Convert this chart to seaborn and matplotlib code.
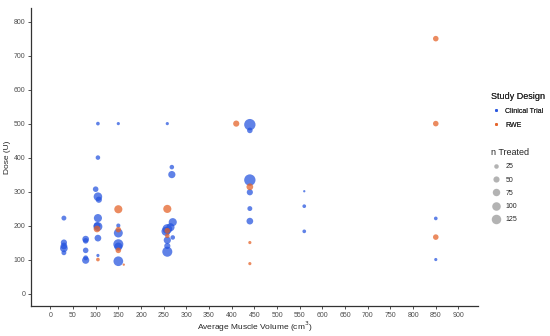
import matplotlib
matplotlib.use("Agg")
import matplotlib.pyplot as plt
import seaborn as sns
import pandas as pd
from matplotlib.lines import Line2D

# ---- data ----
ct_volume = [30, 30, 30, 30, 30, 78, 78, 78, 78, 78, 105, 105, 100, 105, 107, 105, 105, 103, 105, 105,
             150, 150, 150, 150, 150, 150, 258, 268, 268, 270, 258, 265, 255, 258, 258, 258, 270,
             440, 440, 440, 440, 440, 440, 560, 560, 560, 850, 850]
ct_dose = [222, 150, 140, 133, 120, 160, 155, 127, 105, 98, 500, 400, 307, 285, 276, 222, 197, 200, 163, 112,
           500, 200, 178, 145, 138, 95, 500, 372, 350, 210, 190, 195, 183, 157, 140, 123, 165,
           497, 480, 334, 298, 250, 213, 301, 257, 183, 221, 100]
ct_n = [30, 50, 60, 80, 30, 60, 40, 40, 30, 70, 15, 25, 40, 100, 50, 90, 110, 60, 60, 10,
        10, 20, 110, 140, 90, 130, 10, 25, 70, 90, 130, 90, 110, 70, 50, 140, 25,
        180, 40, 180, 50, 30, 60, 3, 15, 15, 15, 10]

rwe_volume = [103, 105, 150, 150, 150, 162, 258, 258, 258, 410, 440, 440, 440, 850, 850, 850]
rwe_dose = [190, 100, 248, 188, 127, 85, 249, 185, 170, 500, 314, 150, 88, 750, 500, 166]
rwe_n = [60, 15, 90, 40, 40, 3, 90, 40, 25, 50, 60, 10, 10, 40, 40, 40]

designs = ["Clinical Trial", "RWE"]
size_breaks = [25, 50, 75, 100, 125]
x_ticks = list(range(0, 901, 50))
y_ticks = list(range(0, 801, 100))

df = pd.DataFrame({
    "volume": ct_volume + rwe_volume,
    "dose": ct_dose + rwe_dose,
    "n": ct_n + rwe_n,
    "design": [designs[0]] * len(ct_volume) + [designs[1]] * len(rwe_volume),
})

palette = {"Clinical Trial": "#2352DE", "RWE": "#E45F23"}
SIZES = (2, 110)
NORM = (1, 300)

def area(n):
    return SIZES[0] + (SIZES[1] - SIZES[0]) * (n - NORM[0]) / (NORM[1] - NORM[0])

sns.set_style("white")
plt.rcParams["font.family"] = ["Liberation Sans", "DejaVu Sans"]

fig = plt.figure(figsize=(5.5, 3.36), dpi=100)
ax = fig.add_axes([0.056, 0.089, 0.813, 0.887])

sns.scatterplot(data=df, x="volume", y="dose", hue="design", size="n",
                palette=palette, sizes=SIZES, size_norm=NORM, alpha=0.72,
                linewidth=0, legend=False, ax=ax)

ax.set_xlim(-43, 943)
ax.set_ylim(-37, 840)
ax.set_xticks(x_ticks)
ax.set_yticks(y_ticks)
ax.tick_params(axis="both", labelsize=5, labelcolor="#4d4d4d", color="#333333",
               length=2.5, width=0.6, pad=1.5, direction="out", bottom=True, left=True)
for s in ["top", "right"]:
    ax.spines[s].set_visible(False)
for s in ["left", "bottom"]:
    ax.spines[s].set_color("#333333")
    ax.spines[s].set_linewidth(0.9)
ax.set_xlabel("Average Muscle Volume (cm$^3$)", fontsize=6, labelpad=0.5)
ax.set_ylabel("Dose (U)", fontsize=6, labelpad=2)

# legends
h1 = [Line2D([], [], marker="o", linestyle="", markersize=2.2, markeredgewidth=0,
             color=palette[d], alpha=0.8, label=d) for d in designs]
leg1 = fig.legend(handles=h1, title="Study Design", loc="upper left",
                  bbox_to_anchor=(0.882, 0.745), frameon=False, fontsize=5,
                  title_fontsize=6.5, alignment="left", handletextpad=0.8,
                  labelspacing=1.0, handlelength=1.2)
h2 = [Line2D([], [], marker="o", linestyle="", markersize=area(b) ** 0.5,
             markeredgewidth=0, color="#b3b3b3", label=str(b)) for b in size_breaks]
leg2 = fig.legend(handles=h2, title="n Treated", loc="upper left",
                  bbox_to_anchor=(0.882, 0.578), frameon=False, fontsize=5,
                  title_fontsize=6.5, alignment="left", handletextpad=0.8,
                  labelspacing=0.9, handlelength=1.2)
fig.add_artist(leg1)

fig.savefig("out.png", dpi=100)
